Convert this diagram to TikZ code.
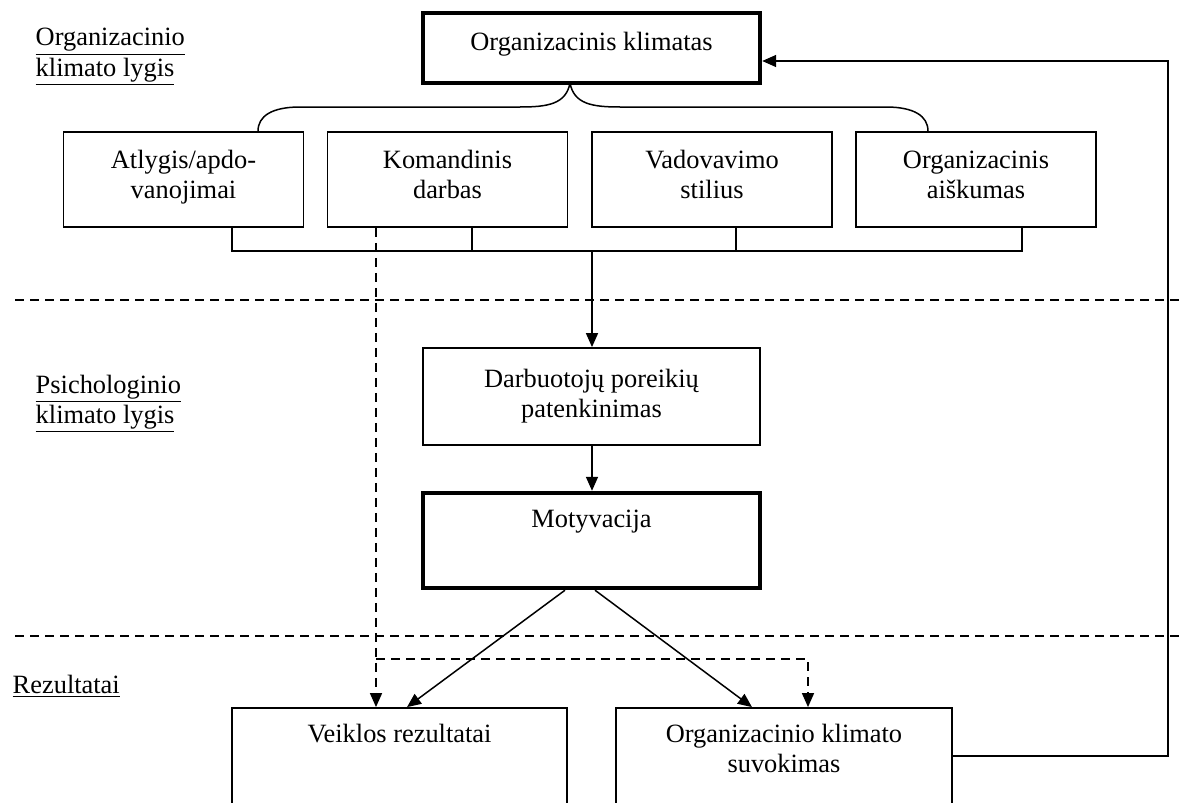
\documentclass[tikz,border=0pt]{standalone}
\usepackage{fontspec}
\setmainfont{Liberation Serif}
\usetikzlibrary{arrows.meta}
\begin{document}
\begin{tikzpicture}[x=0.5pt,y=-0.5pt,
  font=\fontsize{13.2}{15}\selectfont,
  line width=0.75pt,
  box/.style={draw, rectangle, line width=0.9pt, inner sep=0pt},
  thickbox/.style={box, line width=2.2pt},
  small/.style={minimum width=120pt, minimum height=47.5pt},
  wide/.style={minimum width=168.5pt},
  txt/.style={inner sep=0pt, anchor=base, align=center},
  lvl/.style={inner sep=0pt, anchor=base west},
  arr/.style={-{Triangle[length=7pt,width=6pt]}},
  dsh/.style={dash pattern=on 4.5pt off 3pt},
]
\useasboundingbox (0,0) rectangle (1179,803);
\clip (0,0) rectangle (1179,803);

% level labels
\node[lvl] (l1a) at (35,46) {\underline{Organizacinio}};
\node[lvl] (l1b) at (35,76) {\underline{klimato lygis}};
\node[lvl] (l2a) at (35,393) {\underline{Psichologinio}};
\node[lvl] (l2b) at (35,423) {\underline{klimato lygis}};
\node[lvl] (l3a) at (12,693) {\underline{Rezultatai}};

% level separators
\draw[dsh] (15,300) -- (1179,300);
\draw[dsh] (15,636) -- (1179,636);

% boxes (two-line labels are placed by the baseline of their last line)
\node[thickbox, wide, minimum height=35pt] (top) at (591.5,48) {};
\node[txt] (topt) at (591.5,50) {Organizacinis klimatas};

\node[box, small] (atl) at (183.5,179.5) {};
\node[txt] (atlt) at (183.5,198) {Atlygis/apdo-\\vanojimai};
\node[box, small] (kom) at (447.5,179.5) {};
\node[txt] (komt) at (447.5,198) {Komandinis\\darbas};
\node[box, small] (vad) at (712,179.5) {};
\node[txt] (vadt) at (712,198) {Vadovavimo\\stilius};
\node[box, small] (aisk) at (976,179.5) {};
\node[txt] (aiskt) at (976,198) {Organizacinis\\aiškumas};

\node[box, wide, minimum height=48.5pt] (darb) at (591.5,396.5) {};
\node[txt] (darbt) at (591.5,417) {Darbuotojų poreikių\\patenkinimas};

\node[thickbox, wide, minimum height=47.5pt] (moty) at (591.5,540.5) {};
\node[txt] (motyt) at (591.5,527) {Motyvacija};

\node[box, minimum width=167.5pt, minimum height=96pt] (veik) at (399.5,804) {};
\node[txt] (veikt) at (399.5,742) {Veiklos rezultatai};
\node[box, minimum width=168pt, minimum height=96pt] (suv) at (784,804) {};
\node[txt] (suvt) at (784,772) {Organizacinio klimato\\suvokimas};

% brace under the climate box
\coordinate (cusp) at (570,83);
\draw (cusp) .. controls (566,104) and (548,107) .. (520,107) -- (300,107)
      .. controls (272,107) and (258,116) .. (atl.north -| 258,0);
\draw (cusp) .. controls (574,104) and (592,107) .. (620,107) -- (886,107)
      .. controls (914,107) and (928,116) .. (aisk.north -| 928,0);

% collecting bus
\coordinate (b1) at (232,251);
\coordinate (b2) at (472,251);
\coordinate (b3) at (736,251);
\coordinate (b4) at (1022,251);
\coordinate (bm) at (592,251);
\draw (atl.south -| b1) -- (b1) -- (b4) -- (aisk.south -| b4);
\draw (kom.south -| b2) -- (b2);
\draw (vad.south -| b3) -- (b3);
\draw[arr] (bm) -- (darb.north -| bm);
\draw[arr] (darb.south -| bm) -- (moty.north -| bm);

% motivation to results
\draw[arr] ([xshift=-13.25pt]moty.south) -- ([xshift=3.75pt]veik.north);
\draw[arr] ([xshift=1.75pt]moty.south) -- ([xshift=-16pt]suv.north);

% dashed influence of team work
\coordinate (d1) at (376,659);
\coordinate (d2) at (808,659);
\draw[dsh, arr] (kom.south -| d1) -- (veik.north -| d1);
\draw[dsh, arr] (d1) -- (d2) -- (suv.north -| d2);

% feedback loop
\coordinate (f1) at (1168,756);
\coordinate (f2) at (1168,61);
\draw[arr] (suv.east |- f1) -- (f1) -- (f2) -- (top.east |- f2);
\end{tikzpicture}
\end{document}
